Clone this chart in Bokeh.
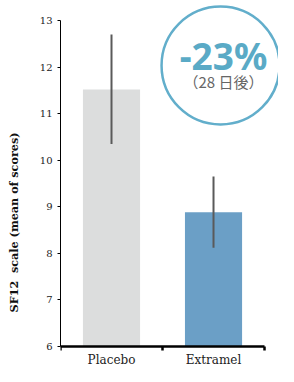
from bokeh.plotting import figure
from bokeh.models import Range1d, FixedTicker, Label
from bokeh.embed import file_html
from bokeh.resources import INLINE

# ---- data ----
categories = ["Placebo", "Extramel"]
means = [11.52, 8.88]
err_low = [10.35, 8.12]
err_high = [12.70, 9.65]
bar_colors = ["#dcdddd", "#6b9fc6"]
y_ticks = [6, 7, 8, 9, 10, 11, 12, 13]
badge_main = "-23%"
badge_sub = "（28 日後）"
y_label = "SF12\u00a0\u00a0scale (mean of scores)"

xs = [i + 0.5 for i in range(len(categories))]

p = figure(width=278, height=366,
           x_range=Range1d(0, 2.137), y_range=Range1d(5.5705, 13.4295),
           output_backend="svg", toolbar_location=None,
           min_border_left=60, min_border_right=0,
           min_border_top=0, min_border_bottom=0)
p.grid.visible = False
p.outline_line_color = None
p.background_fill_color = "white"

# bars
p.vbar(x=xs, top=means, bottom=6, width=0.56, color=bar_colors, line_color=None)
# error bars
p.segment(x0=xs, y0=err_low, x1=xs, y1=err_high, line_color="#5a5a5a", line_width=2)

# badge circle
p.scatter(x=[1.569], y=[12.034], size=118, marker="circle", fill_color=None,
          line_color="#62aecb", line_width=2.5)
p.add_layout(Label(x=1.598, y=12.248, text=badge_main, text_align="center",
                   text_baseline="middle", text_font="Noto Sans",
                   text_font_style="bold", text_font_size="37px",
                   text_color="#5aaac6"))
p.add_layout(Label(x=1.598, y=11.69, text=badge_sub, text_align="center",
                   text_baseline="middle", text_font="Noto Sans CJK JP",
                   text_font_size="15px", text_color="#666666"))

# y axis
ya = p.yaxis[0]
ya.ticker = FixedTicker(ticks=y_ticks)
ya.bounds = (6, 13)
ya.axis_line_color = "black"
ya.axis_line_width = 1
ya.major_tick_out = 3
ya.major_tick_in = 0
ya.minor_tick_line_color = None
ya.major_label_standoff = 5
ya.major_label_text_font = "DejaVu Serif"
ya.major_label_text_font_size = "10px"
ya.major_label_text_color = "#222222"
ya.axis_label = y_label + "\u00a0" * 20
ya.axis_label_standoff = 16
ya.axis_label_text_font = "DejaVu Serif"
ya.axis_label_text_font_style = "bold"
ya.axis_label_text_font_size = "11.2px"
ya.axis_label_text_color = "#111111"

# x axis
xa = p.xaxis[0]
xa.fixed_location = 6
xa.ticker = FixedTicker(ticks=xs, minor_ticks=[0, 1, 2])
xa.bounds = (0, 2)
xa.major_label_overrides = {x: c for x, c in zip(xs, categories)}
xa.axis_line_color = "black"
xa.axis_line_width = 2.5
xa.major_tick_line_color = None
xa.minor_tick_out = 4
xa.minor_tick_in = 0
xa.minor_tick_line_width = 2.5
xa.minor_tick_line_color = "black"
xa.major_label_standoff = 1
xa.major_label_text_font = "DejaVu Serif"
xa.major_label_text_font_size = "12px"
xa.major_label_text_color = "#222222"

open("out.html", "w").write(file_html(p, INLINE))
